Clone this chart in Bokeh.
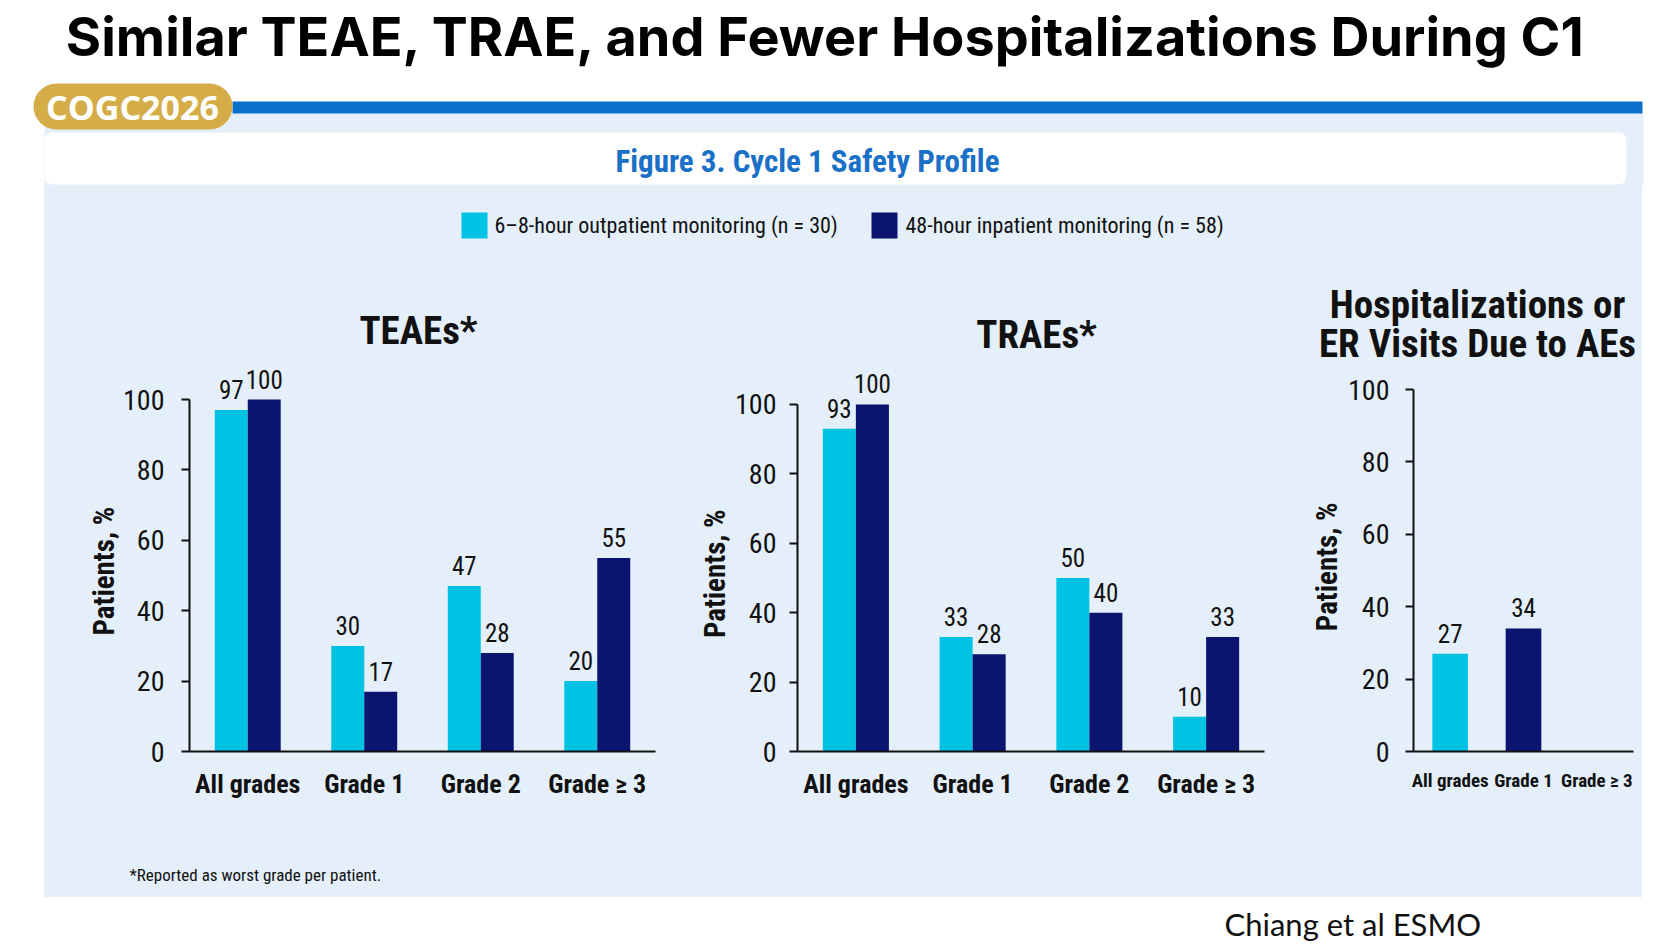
import math
from bokeh.plotting import figure
from bokeh.models import ColumnDataSource, FactorRange, Range1d, LabelSet, FixedTicker, Spacer
from bokeh.layouts import row, column
from bokeh.transform import dodge
from bokeh.core.properties import value
from bokeh.embed import file_html
from bokeh.resources import INLINE

# ---------------- data ----------------
main_title = "Similar TEAE, TRAE, and Fewer Hospitalizations During C1"
badge_text = "COGC2026"
figure_caption = "Figure 3. Cycle 1 Safety Profile"
series_labels = ["6\u20138-hour outpatient monitoring (n = 30)", "48-hour inpatient monitoring (n = 58)"]

categories = ["All grades", "Grade 1", "Grade 2", "Grade \u2265 3"]
teae_outpatient = [97, 30, 47, 20]
teae_inpatient = [100, 17, 28, 55]
trae_outpatient = [93, 33, 50, 10]
trae_inpatient = [100, 28, 40, 33]

hosp_categories = ["All grades", "Grade 1", "Grade \u2265 3"]
hosp_bar_categories = ["All grades", "Grade 1"]
hosp_values = [27, 34]
hosp_series = [0, 1]  # 0 = outpatient colour, 1 = inpatient colour

y_ticks = [0, 20, 40, 60, 80, 100]
y_label = "Patients, %"
teae_title = "TEAEs*"
trae_title = "TRAEs*"
hosp_title = ["Hospitalizations or", "ER Visits Due to AEs"]
footnote = "*Reported as worst grade per patient."
citation = "Chiang et al ESMO"

# ---------------- style ----------------
COND = "Roboto Condensed"
PANEL = "#E4EFF9"
CYAN = "#00C3E4"
NAVY = "#0B1570"
GOLD = "#D5AD48"
BLUE = "#0B6FCC"
CAPTION_BLUE = "#1A6FC6"
INK = "#111111"
series_colors = [CYAN, NAVY]


def deco(w, h, bg):
    p = figure(width=w, height=h, x_range=Range1d(0, w), y_range=Range1d(h, 0),
               output_backend="svg", toolbar_location=None, min_border=0, title=None,
               x_axis_location=None, y_axis_location=None,
               background_fill_color=bg, border_fill_color=bg, outline_line_color=None)
    p.grid.visible = False
    return p


# ---------------- header (page y 0-185) ----------------
H = deco(1659, 185, "white")
H.quad(left=44, right=1643, top=113, bottom=185, fill_color=PANEL, line_color=None)
H.quad(left=232, right=1642, top=101, bottom=113, fill_color=BLUE, line_color=None)
# white caption box with rounded corners (inset polygon + thick round-joined outline)
H.patch(x=[52, 1618, 1618, 52], y=[140, 140, 176, 176], fill_color="white",
        line_color="white", line_width=16, line_join="round")
H.line(x=[56, 209], y=[106, 106], line_width=46, line_cap="round", line_color=GOLD)
H.text(x=[132], y=[106], text=[badge_text], text_font=value("Open Sans"), text_font_style="bold",
       text_font_size="34px", text_color="white", text_align="center", text_baseline="middle")
H.text(x=[826], y=[36], text=[main_title], text_font=value("Inter"), text_font_style="bold",
       text_font_size="54px", text_color="black", text_align="center", text_baseline="middle")
H.text(x=[807], y=[161], text=[figure_caption], text_font=value(COND), text_font_style="bold",
       text_font_size="31px", text_color=CAPTION_BLUE, text_align="center", text_baseline="middle")

# ---------------- legend + chart titles band (page x 44-1642, y 185-366) ----------------
T = deco(1598, 181, PANEL)
T.quad(left=[417, 827], right=[443, 853], top=[27, 27], bottom=[53, 53],
       fill_color=series_colors, line_color=None)
T.text(x=[450, 861], y=[40, 40], text=series_labels, text_font=value(COND),
       text_font_size="22px", text_color=INK, text_baseline="middle", text_align="left")
T.text(x=[374, 992, 1433, 1433], y=[145, 149, 119, 158],
       text=[teae_title, trae_title, hosp_title[0], hosp_title[1]],
       text_font=value(COND), text_font_style="bold", text_font_size="39px", text_color=INK,
       text_align="center", text_baseline="middle")

# ---------------- charts (page y 366-810) ----------------
ROW_TOP = 366
ROW_H = 444


def ylabel_fig(w, cx, cy):
    p = deco(w, ROW_H, PANEL)
    p.text(x=[cx], y=[cy], text=[y_label], angle=math.pi / 2, text_font=value(COND),
           text_font_style="bold", text_font_size="29px", text_color=INK,
           text_align="center", text_baseline="middle")
    return p


def chart(width, cats, left, frame_w, zero_y, hundred_y, tick_font, standoff):
    ymax = 100.0 * (zero_y - ROW_TOP) / (zero_y - hundred_y)
    p = figure(width=width, height=ROW_H, x_range=FactorRange(factors=cats, range_padding=0),
               y_range=Range1d(0, ymax), output_backend="svg", toolbar_location=None, title=None,
               min_border_left=left, min_border_right=width - left - frame_w,
               min_border_top=0, min_border_bottom=ROW_TOP + ROW_H - zero_y,
               background_fill_color=PANEL, border_fill_color=PANEL, outline_line_color=None)
    p.grid.visible = False
    ya = p.yaxis[0]
    ya.ticker = FixedTicker(ticks=y_ticks)
    ya.bounds = (0, 100)
    ya.minor_tick_line_color = None
    ya.major_tick_in = 0
    ya.major_tick_out = 8
    ya.major_tick_line_width = 2
    ya.axis_line_width = 2
    ya.axis_line_color = INK
    ya.major_tick_line_color = INK
    ya.major_label_standoff = standoff
    ya.major_label_text_font = COND
    ya.major_label_text_font_size = "28px"
    ya.major_label_text_color = INK
    xa = p.xaxis[0]
    # baseline reaches a little past the y axis, under the tick marks
    xa.bounds = (-8.0 * len(cats) / frame_w, float(len(cats)))
    xa.major_tick_line_color = None
    xa.minor_tick_line_color = None
    xa.axis_line_width = 2
    xa.axis_line_color = INK
    xa.major_label_standoff = 11
    xa.major_label_text_font = COND
    xa.major_label_text_font_size = tick_font
    xa.major_label_text_font_style = "bold"
    xa.major_label_text_color = INK
    return p


def grouped(p, out_vals, in_vals):
    src = ColumnDataSource(dict(cat=categories, out=out_vals, inp=in_vals,
                                out_t=[str(v) for v in out_vals], in_t=[str(v) for v in in_vals]))
    for col, txt, off, colr in (("out", "out_t", -0.1415, CYAN), ("inp", "in_t", 0.1415, NAVY)):
        p.vbar(x=dodge("cat", off, range=p.x_range), top=col, width=0.283, source=src,
               fill_color=colr, line_color=None)
        p.add_layout(LabelSet(x=dodge("cat", off, range=p.x_range), y=col, text=txt, source=src,
                              text_align="center", text_baseline="alphabetic", y_offset=11,
                              text_font=value(COND), text_font_size="25px", text_color=INK))


Y1 = ylabel_fig(76, 59, 236)
C1 = chart(560, categories, 69, 466, 751, 399, "26px", 17)
grouped(C1, teae_outpatient, teae_inpatient)

Y2 = ylabel_fig(52, 34, 239)
C2 = chart(568, categories, 64, 468, 752, 404, "26px", 13)
grouped(C2, trae_outpatient, trae_inpatient)

Y3 = ylabel_fig(45, 26, 231)
C3 = chart(297, hosp_categories, 66, 222, 751, 389, "19px", 16)
hsrc = ColumnDataSource(dict(cat=hosp_bar_categories, val=hosp_values,
                             txt=[str(v) for v in hosp_values],
                             color=[series_colors[i] for i in hosp_series]))
C3.vbar(x="cat", top="val", width=0.486, source=hsrc, fill_color="color", line_color=None)
C3.add_layout(LabelSet(x="cat", y="val", text="txt", source=hsrc, text_align="center",
                       text_baseline="alphabetic", y_offset=11, text_font=value(COND),
                       text_font_size="25px", text_color=INK))

# ---------------- footnote band (page y 810-897) ----------------
F = deco(1598, 87, PANEL)
F.text(x=[85], y=[64], text=[footnote], text_font=value(COND), text_font_size="17px",
       text_color=INK, text_baseline="middle", text_align="left")

# ---------------- citation (page y 897-947) ----------------
B = deco(1658, 50, "white")
B.text(x=[1224], y=[26], text=[citation], text_font=value("Lato"), text_font_size="31px",
       text_color=INK, text_baseline="middle", text_align="left")

bg = {"background-color": PANEL}
charts_row = row(Y1, C1, Y2, C2, Y3, C3, spacing=0, styles=bg)
panel = column(T, charts_row, F, spacing=0, styles=bg)
middle = row(Spacer(width=44, height=712), panel, Spacer(width=16, height=712), spacing=0)
layout = column(H, middle, B, spacing=0)

open("out.html", "w").write(file_html(layout, INLINE))
